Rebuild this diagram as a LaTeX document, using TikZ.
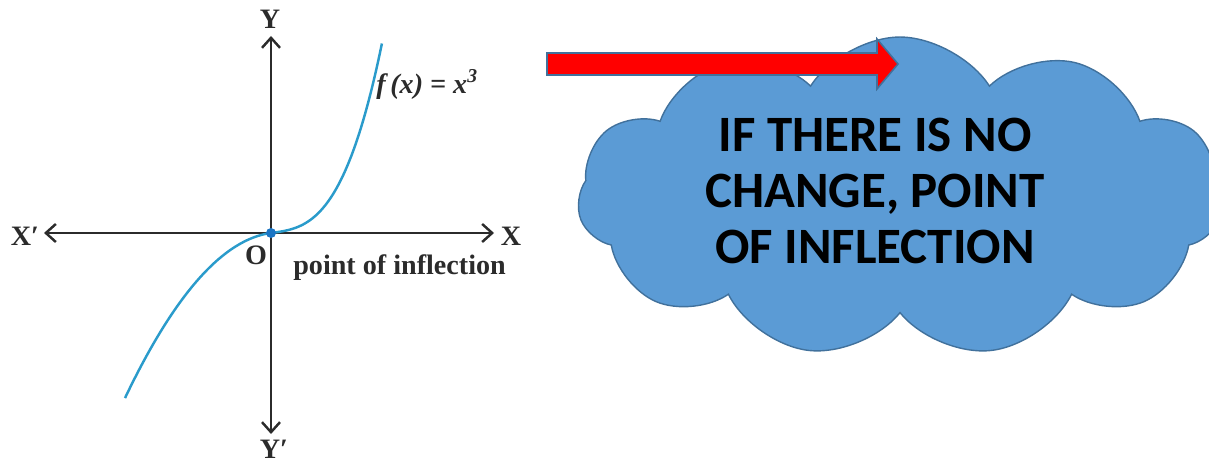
\documentclass[tikz,border=0pt]{standalone}
\usepackage{fontspec}
\setmainfont{Liberation Serif}
\newfontfamily\calloutfont{Carlito}
\usetikzlibrary{arrows.meta, shapes.symbols}
\definecolor{caxis}{HTML}{2B2B2B}
\definecolor{ccurve}{HTML}{2A9BCB}
\definecolor{cdot}{HTML}{1B75C4}
\definecolor{ccloud}{HTML}{5B9BD5}
\definecolor{cedge}{HTML}{41719C}
\definecolor{cred}{HTML}{FF0000}
\tikzset{
  every picture/.style={x=0.02cm, y=-0.02cm},
  axis/.style={draw=caxis, line width=1.4pt, {Straight Barb[length=2mm, width=3.6mm]}-{Straight Barb[length=2mm, width=3.6mm]}},
  axislabel/.style={font=\bfseries\fontsize{16}{18}\selectfont, text=caxis, inner sep=0pt},
  curve/.style={draw=ccurve, line width=1.4pt, variable=\u, samples=60},
  dot/.style={circle, fill=cdot, inner sep=0pt, minimum size=2mm},
  callout/.style={cloud, cloud puffs=11, cloud puff arc=115, aspect=2, fill=ccloud, draw=cedge, line width=0.8pt, minimum width=12.9cm, minimum height=6.4cm},
  calltext/.style={font=\calloutfont\bfseries\fontsize{29}{32}\selectfont, align=center},
  pointer/.style={fill=cred, draw=cedge, line width=0.9pt},
}

\begin{document}
\begin{tikzpicture}
  \useasboundingbox (0,0) rectangle (1209,465);
  % axes
  \coordinate (xleft) at (44,233);
  \coordinate (xright) at (494,233);
  \coordinate (ytop) at (271,36);
  \coordinate (ybot) at (271,434);
  \draw[axis] (xleft) -- (xright);
  \draw[axis] (ybot) -- (ytop);
  \node[axislabel] (lx) at (511,236) {X};
  \node[axislabel] (lxp) at (25,236) {X′};
  \node[axislabel] (ly) at (270,19) {Y};
  \node[axislabel] (lyp) at (274,449) {Y′};
  \node[axislabel] (lo) at (256,255) {O};
  \node[axislabel, anchor=west] (note) at (293,268) {point of inflection};
  \node[axislabel, anchor=west] (fx) at (376,84) {\itshape f\,(x) = x\textsuperscript{3}};
  % the cubic (u = 100 px)
  \draw[curve] plot[domain=-1.46:0] ({271+100*\u}, {233+70.3*\u*\u-13.4*\u+1.4*\u*\u*\u})
    -- plot[domain=0:1.11] ({271+100*\u}, {233-128*\u*\u*\u-13.4*\u});
  \node[dot] (o) at (271,233) {};
  % cloud and pointer
  \node[callout] (cloud) at (900,197) {};
  \node[calltext] (msg) at (875,191) {IF THERE IS NO\\ CHANGE, POINT\\ OF INFLECTION};
  \coordinate (tail) at (547,64);
  \coordinate (tip) at (898,64);
  \draw[pointer] (tail) ++(0,-11) -- ++(330,0) -- ++(0,-14) -- (tip) -- ++(-21,25) -- ++(0,-14) -- ++(-330,0) -- cycle;
\end{tikzpicture}
\end{document}
